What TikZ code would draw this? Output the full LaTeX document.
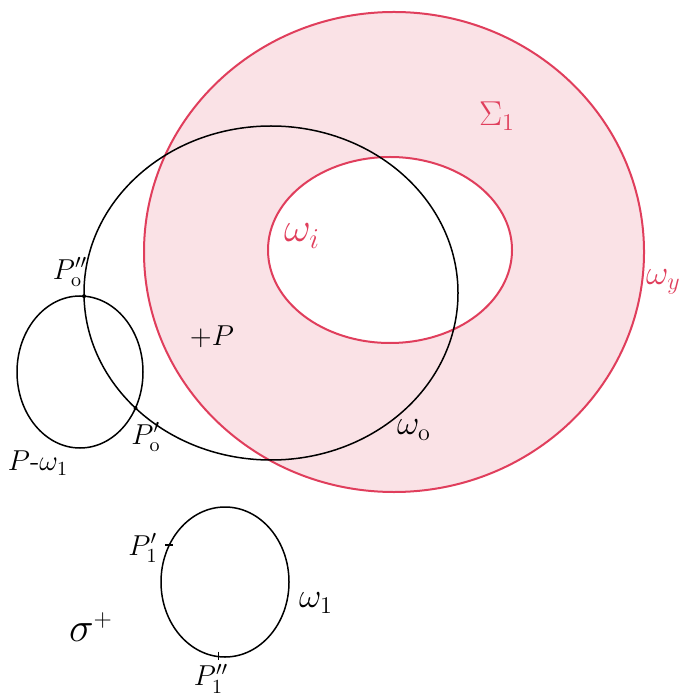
\documentclass[tikz,border=0pt]{standalone}
\usepackage{amsmath,amssymb}
\usepackage{xcolor}
\usepackage{tikz}
\usetikzlibrary{intersections,calc}

\definecolor{sigred}{RGB}{224,62,92}
\definecolor{sigfill}{RGB}{250,226,230}

\tikzset{
	redline/.style={draw=sigred, line width=1pt},
	blackline/.style={draw=black, line width=0.75pt},
	tick/.style={draw=black, line width=0.6pt}
}

\begin{document}
\begin{tikzpicture}[x=0.5pt,y=-0.5pt]
		\useasboundingbox (0,0) rectangle (682,694);

		% ring Sigma_1 between omega_y and omega_i
		\fill[sigfill, even odd rule] (394,252) ellipse [x radius=250, y radius=240]
			(390,250) ellipse [x radius=122, y radius=93];
		\draw[redline] (394,252) ellipse [x radius=250, y radius=240];
		\draw[redline] (390,250) ellipse [x radius=122, y radius=93];

		% omega_o and the loop P - omega_1
		\draw[blackline, name path=wo] (271,293) ellipse [x radius=187, y radius=167];
		\draw[blackline, name path=loop] (80,372) ellipse [x radius=63, y radius=76];
		\path[name intersections={of=wo and loop, by={pa,pb}}];

		% omega_1
		\coordinate (c1) at (225,582);
		\draw[blackline] (c1) ellipse [x radius=64, y radius=75];
		\coordinate (p1a) at ($(c1)+({64*cos(209.5)},{75*sin(209.5)})$);
		\coordinate (p1b) at ($(c1)+({64*cos(96)},{75*sin(96)})$);
		\draw[tick] ($(p1a)+(-4,0)$) -- ($(p1a)+(4,0)$);
		\draw[tick] ($(p1b)+(0,-5)$) -- ($(p1b)+(0,3)$);
		\fill (pa) circle [radius=2];
		\fill (pb) circle [radius=2];

		% labels
		\node[text=sigred] (sig) at (497,116) {\LARGE$\Sigma_1$};
		\node[text=sigred] (wi) at (302,236) {\huge$\omega_i$};
		\node[text=sigred, anchor=east, inner sep=0pt] (wy) at (681,282) {\LARGE$\omega_y$};
		\node (p) at (212,337) {\Large$+P$};
		\node (wol) at (414,430) {\LARGE$\omega_{\mathrm{o}}$};
		\node (pw) at (38,463) {\Large$P\text{-}\omega_1$};
		\node (po2) at (70,272) {\Large$P_{\mathrm{o}}''$};
		\node (po1) at (146,437) {\Large$P_{\mathrm{o}}'$};
		\node[anchor=east, inner sep=1pt] (p11) at (160,548) {\Large$P_1'$};
		\node (w1) at (316,603) {\LARGE$\omega_1$};
		\node (sigma) at (91,627) {\huge$\sigma^{\scriptscriptstyle +}$};
		\node[anchor=north, inner sep=1pt] (p12) at (211,662) {\Large$P_1''$};
	\end{tikzpicture}
\end{document}
